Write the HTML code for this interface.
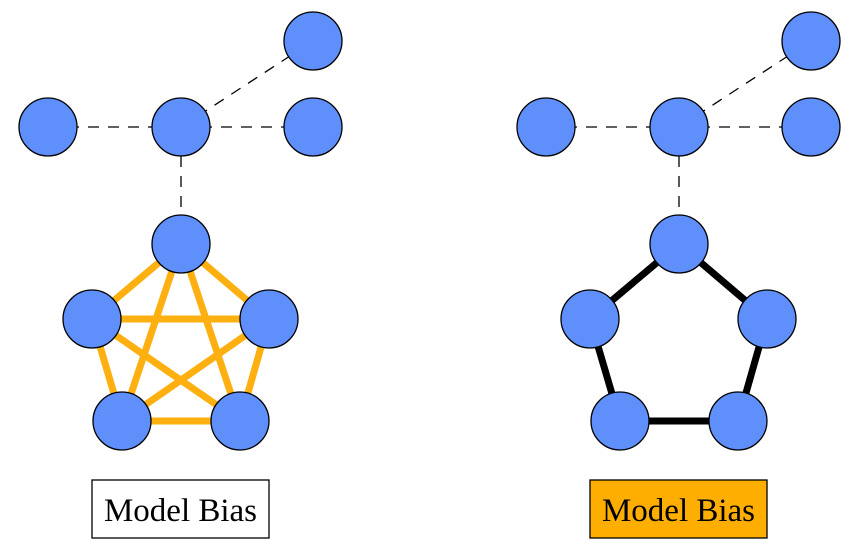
<!DOCTYPE html>
<html><head><style>body{margin:0;background:#fff}</style></head><body>
<svg width="857" height="551" viewBox="0 0 857 551" xmlns="http://www.w3.org/2000/svg">
<defs>
<g id="top">
<g stroke="#000" stroke-width="1.3" stroke-dasharray="11,9" fill="none">
<line x1="48" y1="127" x2="181" y2="127"/>
<line x1="181" y1="127" x2="313" y2="127"/>
<line x1="181" y1="127" x2="313" y2="41"/>
<line x1="181" y1="156" x2="181" y2="215"/>
</g>
<g fill="#5f8ffa" stroke="#000" stroke-width="1.3">
<circle cx="313" cy="41" r="29"/><circle cx="48" cy="127" r="29"/>
<circle cx="181" cy="127" r="29"/><circle cx="313" cy="127" r="29"/>
</g>
</g>
</defs>
<use href="#top"/>
<use href="#top" transform="translate(498,0)"/>
<g stroke="#fdb00f" stroke-width="7" stroke-linecap="round">
<line x1="181" y1="244" x2="92" y2="319"/><line x1="181" y1="244" x2="269" y2="319"/>
<line x1="181" y1="244" x2="122" y2="421"/><line x1="181" y1="244" x2="240" y2="421"/>
<line x1="92" y1="319" x2="269" y2="319"/><line x1="92" y1="319" x2="122" y2="421"/>
<line x1="92" y1="319" x2="240" y2="421"/><line x1="269" y1="319" x2="122" y2="421"/>
<line x1="269" y1="319" x2="240" y2="421"/><line x1="122" y1="421" x2="240" y2="421"/>
</g>
<polygon points="679,244 590,319 620,421 738,421 767,319" fill="none" stroke="#000" stroke-width="7"/>
<g fill="#5f8ffa" stroke="#000" stroke-width="1.3">
<circle cx="181" cy="244" r="29"/><circle cx="92" cy="319" r="29"/><circle cx="269" cy="319" r="29"/>
<circle cx="122" cy="421" r="29"/><circle cx="240" cy="421" r="29"/>
<circle cx="679" cy="244" r="29"/><circle cx="590" cy="319" r="29"/><circle cx="767" cy="319" r="29"/>
<circle cx="620" cy="421" r="29"/><circle cx="738" cy="421" r="29"/>
</g>
<rect x="92" y="480" width="177" height="58" fill="#fff" stroke="#000" stroke-width="1.3"/>
<rect x="590" y="480" width="177" height="58" fill="#fdae00" stroke="#000" stroke-width="1.3"/>
<g font-family="Liberation Serif, serif" font-size="33" text-anchor="middle" fill="#000">
<text x="180.5" y="521">Model Bias</text>
<text x="678.5" y="521">Model Bias</text>
</g>
</svg>
</body></html>
